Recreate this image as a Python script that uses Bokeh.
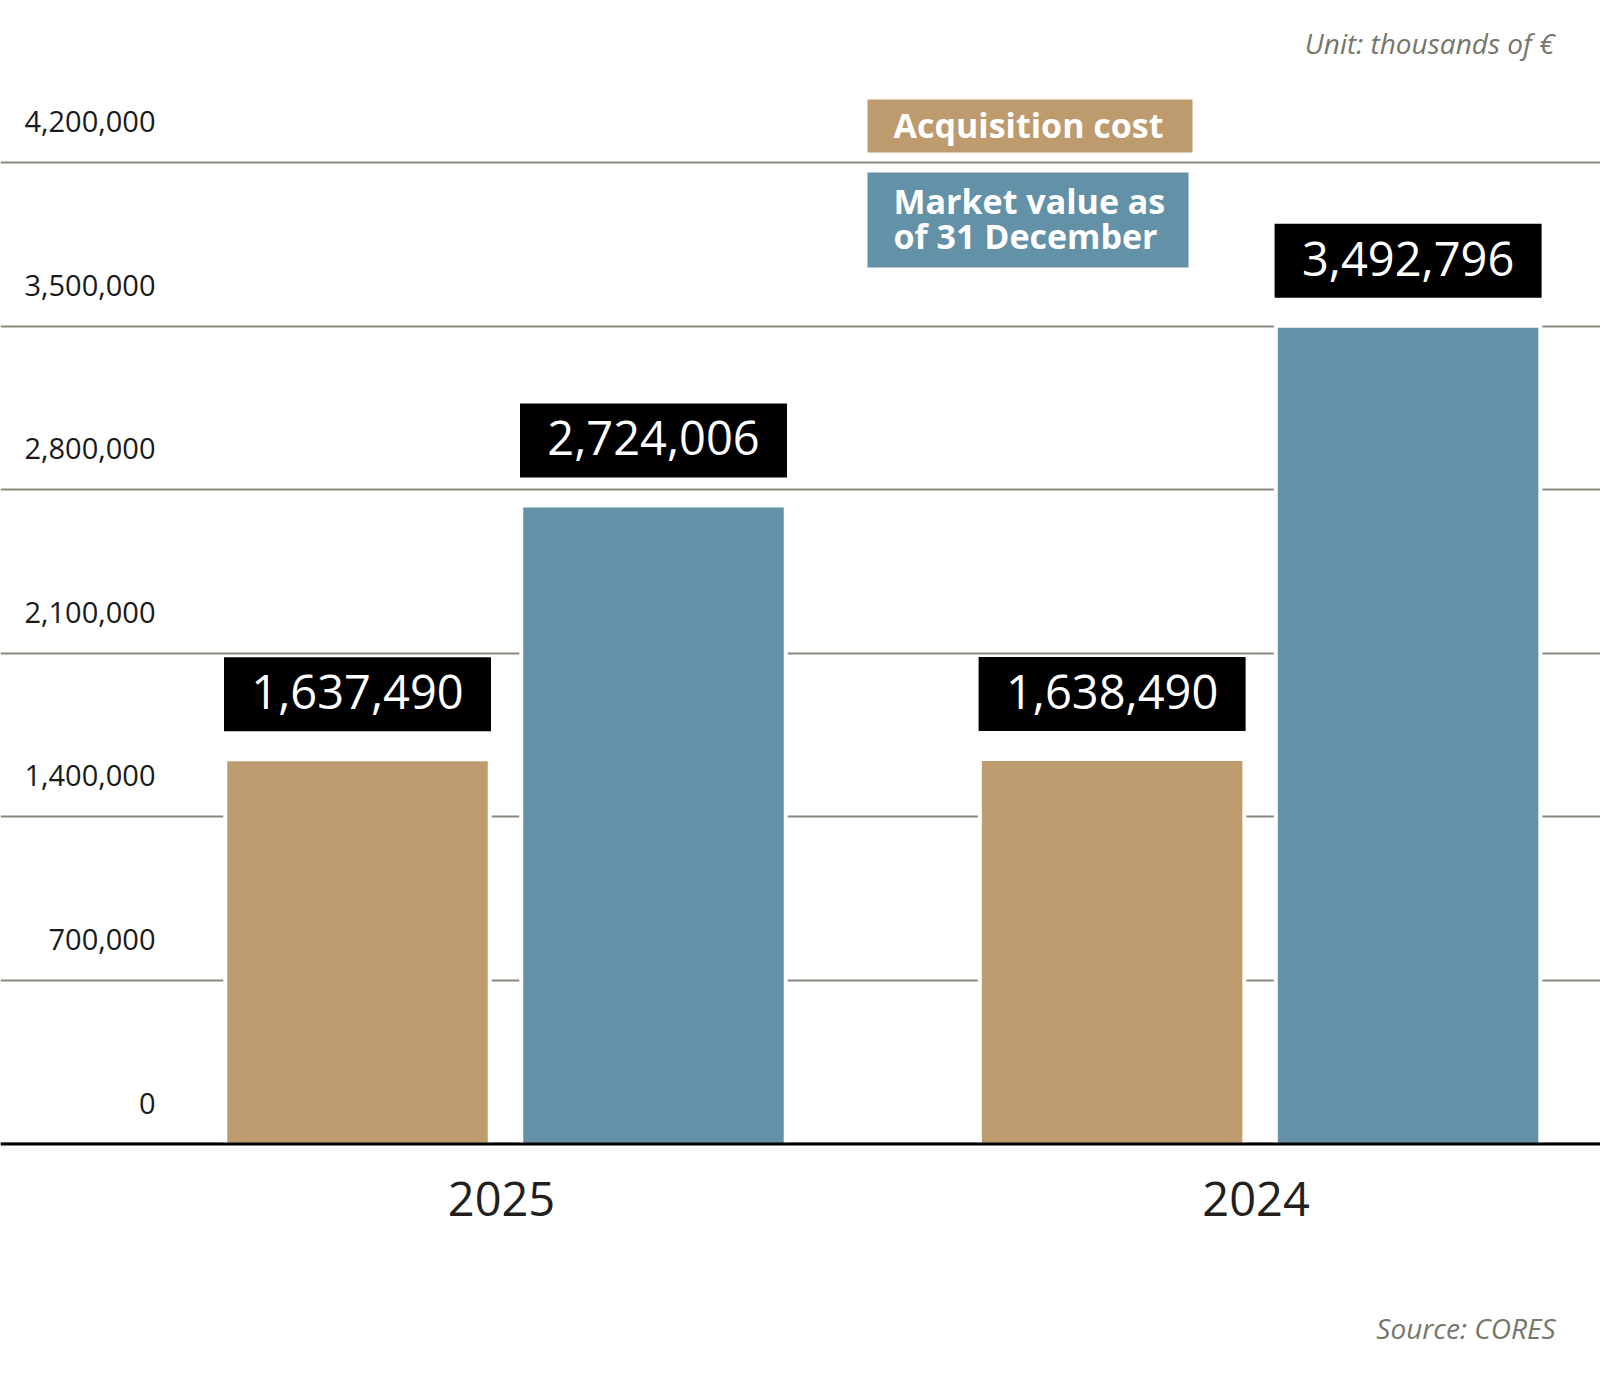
from bokeh.plotting import figure
from bokeh.models import Range1d, FixedTicker, Grid, Span
from bokeh.embed import file_html
from bokeh.resources import INLINE
from bokeh.core.properties import value

# ---------------- data ----------------
years = ["2025", "2024"]
acquisition_cost = [1637490, 1638490]
market_value = [2724006, 3492796]
tick_values = [0, 700000, 1400000, 2100000, 2800000, 3500000, 4200000]
series_names = ["Acquisition cost", "Market value as\nof 31 December"]
unit_note = "Unit: thousands of €"
source_note = "Source: CORES"

# ---------------- style ----------------
TAN = "#BD9B6E"
BLUE = "#6391A8"
GRID_COLOR = "#8a8a7f"
NOTE_COLOR = "#76766b"
FONT = "Open Sans"
BASE_FIX = 0.34   # em correction for the rendered text baseline

W, H = 1600, 1359
X0, Y0 = 0, 0
Y_BASE, Y_TOP_TICK = 1143.4, 162.0  # pixel rows of 0 and top tick
S = tick_values[-1] / (Y_BASE - Y_TOP_TICK)   # data units per pixel


def dy(px):
    return px * S


def ry(py):
    return (Y_BASE - py) * S


def ty(py, size):
    """data y for a text whose alphabetic baseline should sit at pixel row py"""
    return ry(py - BASE_FIX * size)


GROUP0 = 505.0
GROUP_STEP = 754.6
BAR_OFF = 148.0
BAR_W = 260.5
PAD = 4
BOX_W = 267
BOX_GAP = 30
BOX_H = 74
YEAR_SHIFT = -4

VAL_SIZE = 47
TICK_SIZE = 29
YEAR_SIZE = 47
LEG_SIZE = 34
NOTE_SIZE = 28

p = figure(width=W, height=H,
           x_range=Range1d(X0, X0 + W),
           y_range=Range1d(ry(Y0 + H), ry(Y0)),
           x_axis_location=None, y_axis_location=None,
           output_backend="svg", toolbar_location=None,
           min_border=0, outline_line_color=None,
           background_fill_color="white", border_fill_color="white")
p.grid.visible = False
p.add_layout(Grid(dimension=1, ticker=FixedTicker(ticks=tick_values),
                  grid_line_color=GRID_COLOR, grid_line_width=2))

centers = [GROUP0 + i * GROUP_STEP for i in range(len(years))]
x_acq = [c - BAR_OFF for c in centers]
x_mkt = [c + BAR_OFF for c in centers]

for xs, vals, col in ((x_acq, acquisition_cost, TAN), (x_mkt, market_value, BLUE)):
    # white halo that interrupts the gridlines around each bar
    p.vbar(x=xs, top=[v + dy(PAD) for v in vals], bottom=0,
           width=BAR_W + 2 * PAD, fill_color="white", line_color=None)
    p.vbar(x=xs, top=vals, bottom=0, width=BAR_W,
           fill_color=col, line_color=None)
    # value label boxes
    p.quad(left=[x - BOX_W / 2 for x in xs], right=[x + BOX_W / 2 for x in xs],
           bottom=[v + dy(BOX_GAP) for v in vals],
           top=[v + dy(BOX_GAP + BOX_H) for v in vals],
           fill_color="black", line_color=None)
    p.text(x=xs, y=[v + dy(BOX_GAP + 23 + BASE_FIX * VAL_SIZE) for v in vals],
           text=[f"{v:,}" for v in vals],
           text_align="center", text_baseline="alphabetic",
           text_color="white", text_font=value(FONT),
           text_font_size=f"{VAL_SIZE}px")

p.add_layout(Span(location=0, dimension="width", line_color="black", line_width=3))

# y tick labels (above gridlines, left)
p.text(x=[155] * len(tick_values),
       y=[t + dy(31 + BASE_FIX * TICK_SIZE) for t in tick_values],
       text=[f"{t:,}" for t in tick_values],
       text_align="right", text_baseline="alphabetic",
       text_color="#1a1a1a", text_font=value(FONT),
       text_font_size=f"{TICK_SIZE}px")

# year labels
p.text(x=[c + YEAR_SHIFT for c in centers], y=[ty(1214, YEAR_SIZE)] * len(years),
       text=years, text_align="center", text_baseline="alphabetic",
       text_color="#231f20", text_font=value(FONT),
       text_font_size=f"{YEAR_SIZE}px")

# legend boxes
p.quad(left=[867], right=[1192], top=[ry(99)], bottom=[ry(152)],
       fill_color=TAN, line_color=None)
p.quad(left=[867], right=[1188], top=[ry(172)], bottom=[ry(267)],
       fill_color=BLUE, line_color=None)
leg_lines = [series_names[0]] + series_names[1].split("\n")
p.text(x=[893] * 3,
       y=[ty(136, LEG_SIZE), ty(212, LEG_SIZE), ty(247, LEG_SIZE)],
       text=leg_lines,
       text_align="left", text_baseline="alphabetic",
       text_color="white", text_font=value(FONT),
       text_font_size=f"{LEG_SIZE}px", text_font_style="bold")

# notes
p.text(x=[1554], y=[ty(52, NOTE_SIZE)], text=[unit_note], text_align="right",
       text_baseline="alphabetic", text_color=NOTE_COLOR,
       text_font=value(FONT), text_font_size=f"{NOTE_SIZE}px",
       text_font_style="italic")
p.text(x=[1555], y=[ty(1337, NOTE_SIZE)], text=[source_note], text_align="right",
       text_baseline="alphabetic", text_color=NOTE_COLOR,
       text_font=value(FONT), text_font_size=f"{NOTE_SIZE}px",
       text_font_style="italic")

open("out.html", "w").write(file_html(p, INLINE))
